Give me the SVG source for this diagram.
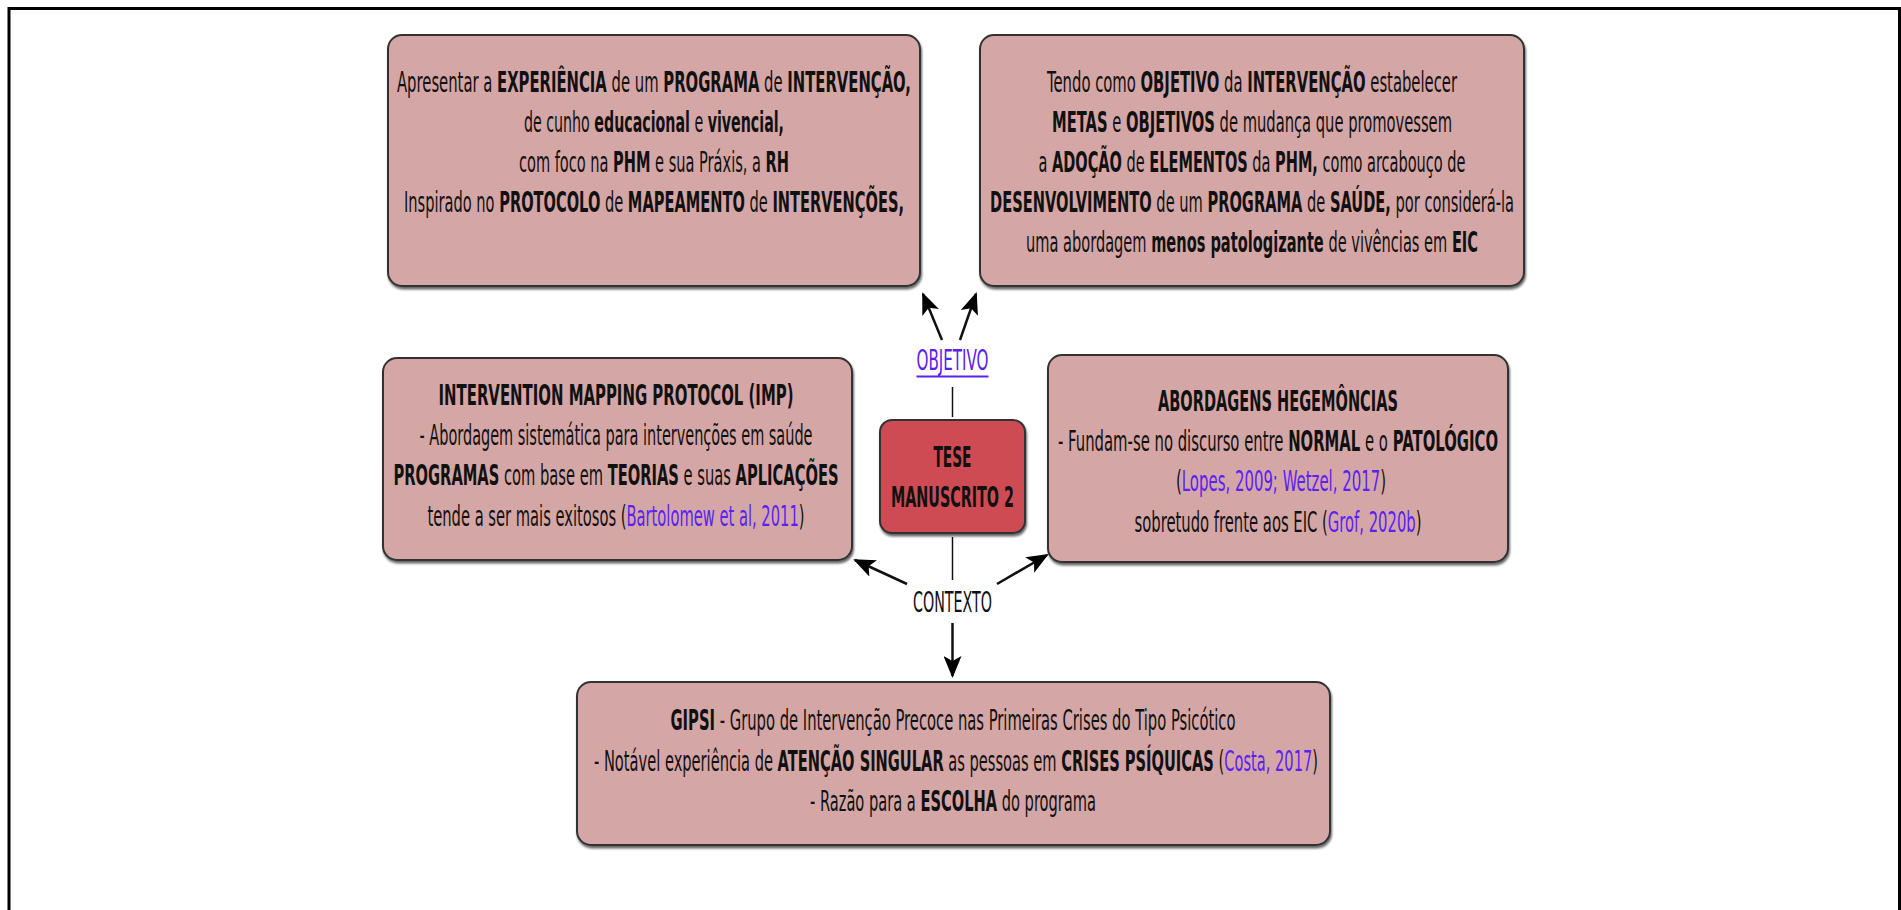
<svg xmlns="http://www.w3.org/2000/svg" width="1901" height="910" viewBox="0 0 1901 910">
<style>
text{font-family:"DejaVu Sans",Verdana,sans-serif;font-size:29px;fill:#111}
.b{font-weight:bold}
.c{fill:#5a22f0}
.box{fill:#d5a6a6;stroke:#333;stroke-width:2;filter:url(#sh)}
.core{fill:#cf4c53;stroke:#333;stroke-width:2;filter:url(#sh)}
.ln{stroke:#111;fill:none}
</style>
<defs>
<filter id="sh" x="-5%" y="-5%" width="110%" height="115%">
<feDropShadow dx="1" dy="2.5" stdDeviation="1" flood-color="#000" flood-opacity="0.6"/>
</filter>
<marker id="ah" markerUnits="userSpaceOnUse" markerWidth="22" markerHeight="18" refX="20" refY="9" orient="auto">
<path d="M0,0 L22,9 L0,18 L5,9 z" fill="#000"/>
</marker>
</defs>
<rect width="1901" height="910" fill="#fff"/>
<path d="M9,915 V8.5 H1899.5 V915" fill="none" stroke="#000" stroke-width="3"/>

<g id="connectors">
<line class="ln" x1="952.5" y1="387" x2="952.5" y2="417" stroke-width="1.5"/>
<line class="ln" x1="952.5" y1="537" x2="952.5" y2="580" stroke-width="1.5"/>
<line class="ln" x1="942" y1="340" x2="923" y2="294" stroke-width="2.5" marker-end="url(#ah)"/>
<line class="ln" x1="960" y1="340" x2="976" y2="294" stroke-width="2.5" marker-end="url(#ah)"/>
<line class="ln" x1="907" y1="584" x2="855" y2="560" stroke-width="2.5" marker-end="url(#ah)"/>
<line class="ln" x1="997" y1="584" x2="1047" y2="555" stroke-width="2.5" marker-end="url(#ah)"/>
<line class="ln" x1="952.5" y1="623" x2="952.5" y2="676" stroke-width="2.5" marker-end="url(#ah)"/>
</g>

<g id="objetivo">
<line x1="916.5" y1="376.5" x2="988.5" y2="376.5" stroke="#5a22f0" stroke-width="2"/>
<g transform="scale(0.5,1)">
<text x="1833" y="370" textLength="144" lengthAdjust="spacingAndGlyphs" class="c">OBJETIVO</text>
</g>
</g>
<g id="contexto">
<g transform="scale(0.5,1)">
<text x="1826" y="612" textLength="158" lengthAdjust="spacingAndGlyphs">CONTEXTO</text>
</g>
</g>

<g id="tese">
<rect class="core" x="880" y="420" width="145" height="113" rx="12"/>
<g transform="scale(0.5,1)">
<text x="1867" y="467" textLength="76" lengthAdjust="spacingAndGlyphs" class="b">TESE</text>
<text x="1782" y="507" textLength="246" lengthAdjust="spacingAndGlyphs" class="b">MANUSCRITO 2</text>
</g>
</g>

<g id="box-apresentar">
<rect class="box" x="388" y="35" width="532" height="251" rx="14"/>
<g transform="scale(0.5,1)">
<text x="794" y="92" textLength="1028" lengthAdjust="spacingAndGlyphs">Apresentar a <tspan class="b">EXPERIÊNCIA</tspan> de um <tspan class="b">PROGRAMA</tspan> de <tspan class="b">INTERVENÇÃO,</tspan></text>
<text x="1048" y="132" textLength="520" lengthAdjust="spacingAndGlyphs">de cunho <tspan class="b">educacional</tspan> e <tspan class="b">vivencial,</tspan></text>
<text x="1038" y="172" textLength="540" lengthAdjust="spacingAndGlyphs">com foco na <tspan class="b">PHM</tspan> e sua Práxis, a <tspan class="b">RH</tspan></text>
<text x="808" y="212" textLength="1000" lengthAdjust="spacingAndGlyphs">Inspirado no <tspan class="b">PROTOCOLO</tspan> de <tspan class="b">MAPEAMENTO</tspan> de <tspan class="b">INTERVENÇÕES,</tspan></text>
</g>
</g>

<g id="box-objetivo">
<rect class="box" x="980" y="35" width="544" height="251" rx="14"/>
<g transform="scale(0.5,1)">
<text x="2094" y="92" textLength="820" lengthAdjust="spacingAndGlyphs">Tendo como <tspan class="b">OBJETIVO</tspan> da <tspan class="b">INTERVENÇÃO</tspan> estabelecer</text>
<text x="2104" y="132" textLength="800" lengthAdjust="spacingAndGlyphs"><tspan class="b">METAS</tspan> e <tspan class="b">OBJETIVOS</tspan> de mudança que promovessem</text>
<text x="2077" y="172" textLength="854" lengthAdjust="spacingAndGlyphs">a <tspan class="b">ADOÇÃO</tspan> de <tspan class="b">ELEMENTOS</tspan> da <tspan class="b">PHM,</tspan> como arcabouço de</text>
<text x="1980" y="212" textLength="1048" lengthAdjust="spacingAndGlyphs"><tspan class="b">DESENVOLVIMENTO</tspan> de um <tspan class="b">PROGRAMA</tspan> de <tspan class="b">SAÚDE,</tspan> por considerá-la</text>
<text x="2052" y="252" textLength="904" lengthAdjust="spacingAndGlyphs">uma abordagem <tspan class="b">menos patologizante</tspan> de vivências em <tspan class="b">EIC</tspan></text>
</g>
</g>

<g id="box-imp">
<rect class="box" x="383" y="358" width="469" height="202" rx="14"/>
<g transform="scale(0.5,1)">
<text x="877" y="405" textLength="710" lengthAdjust="spacingAndGlyphs" class="b">INTERVENTION MAPPING PROTOCOL (IMP)</text>
<text x="839" y="445" textLength="786" lengthAdjust="spacingAndGlyphs">- Abordagem sistemática para intervenções em saúde</text>
<text x="787" y="485" textLength="890" lengthAdjust="spacingAndGlyphs"><tspan class="b">PROGRAMAS</tspan> com base em <tspan class="b">TEORIAS</tspan> e suas <tspan class="b">APLICAÇÕES</tspan></text>
<text x="855" y="526" textLength="754" lengthAdjust="spacingAndGlyphs">tende a ser mais exitosos (<tspan class="c">Bartolomew et al, 2011</tspan>)</text>
</g>
</g>

<g id="box-hegemonicas">
<rect class="box" x="1048" y="355" width="460" height="207" rx="14"/>
<g transform="scale(0.5,1)">
<text x="2316" y="411" textLength="480" lengthAdjust="spacingAndGlyphs" class="b">ABORDAGENS HEGEMÔNCIAS</text>
<text x="2116" y="451" textLength="880" lengthAdjust="spacingAndGlyphs">- Fundam-se no discurso entre <tspan class="b">NORMAL</tspan> e o <tspan class="b">PATOLÓGICO</tspan></text>
<text x="2352" y="491" textLength="420" lengthAdjust="spacingAndGlyphs">(<tspan class="c">Lopes, 2009; Wetzel, 2017</tspan>)</text>
<text x="2269" y="532" textLength="574" lengthAdjust="spacingAndGlyphs">sobretudo frente aos EIC (<tspan class="c">Grof, 2020b</tspan>)</text>
</g>
</g>

<g id="box-gipsi">
<rect class="box" x="577" y="682" width="753" height="163" rx="14"/>
<g transform="scale(0.5,1)">
<text x="1341" y="730" textLength="1130" lengthAdjust="spacingAndGlyphs"><tspan class="b">GIPSI</tspan> - Grupo de Intervenção Precoce nas Primeiras Crises do Tipo Psicótico</text>
<text x="1188" y="771" textLength="1448" lengthAdjust="spacingAndGlyphs">- Notável experiência de <tspan class="b">ATENÇÃO SINGULAR</tspan> as pessoas em <tspan class="b">CRISES PSÍQUICAS</tspan> (<tspan class="c">Costa, 2017</tspan>)</text>
<text x="1620" y="811" textLength="572" lengthAdjust="spacingAndGlyphs">- Razão para a <tspan class="b">ESCOLHA</tspan> do programa</text>
</g>
</g>
</svg>
